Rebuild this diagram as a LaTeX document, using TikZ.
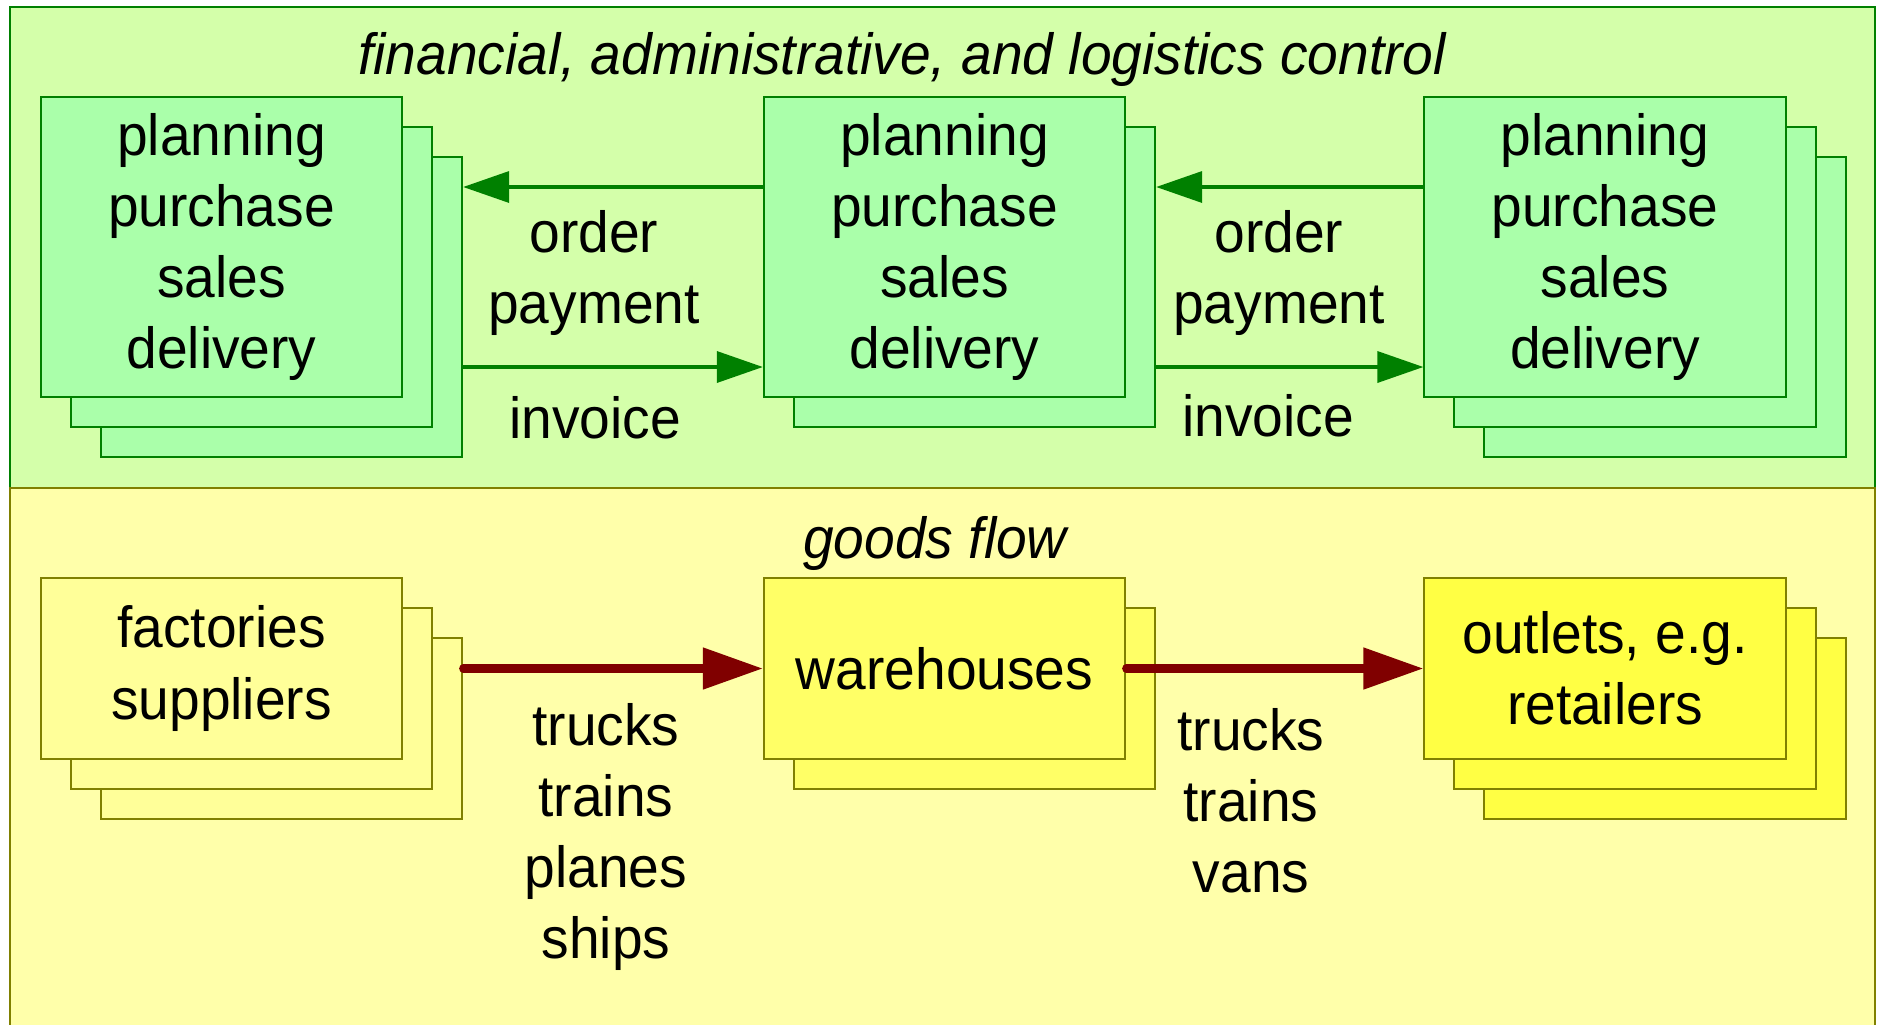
\documentclass[tikz,border=0pt]{standalone}
\usepackage{fontspec}
\setmainfont{Liberation Sans}[FakeStretch=0.95]
\usetikzlibrary{arrows.meta,calc}

\definecolor{ctrlbg}{HTML}{D4FFAA}
\definecolor{ctrlfill}{HTML}{AAFFAA}
\definecolor{ctrlline}{HTML}{008000}
\definecolor{goodsbg}{HTML}{FFFFAA}
\definecolor{goodsline}{HTML}{808000}
\definecolor{factoryfill}{HTML}{FFFF99}
\definecolor{storefill}{HTML}{FFFF66}
\definecolor{shopfill}{HTML}{FFFF44}
\definecolor{goodsred}{HTML}{800000}

\begin{document}
\begin{tikzpicture}[x=0.01cm, y=-0.01cm,
        every node/.style={font=\fontsize{16.5}{20.2}\selectfont, align=center},
        heading/.style={font=\fontsize{16.5}{20.2}\selectfont\itshape},
        ctrlbox/.style={draw=ctrlline, fill=ctrlfill, line width=0.6pt,
            minimum width=3.61cm, minimum height=3cm, inner sep=0pt},
        goodsbox/.style={draw=goodsline, line width=0.6pt,
            minimum width=3.61cm, minimum height=1.81cm, inner sep=0pt},
        ctrlarrow/.style={draw=ctrlline, line width=1pt,
            -{Triangle[length=4.6mm, width=3.1mm]}},
        goodsarrow/.style={draw=goodsred, line width=2.3pt, line cap=round,
            -{Triangle[length=6mm, width=4mm]}}]
        \useasboundingbox (0,0) rectangle (1877,1024);
        % the two levels
        \draw [ctrlline, fill=ctrlbg, line width=0.8pt] (10,7) rectangle (1875,488);
        \draw [goodsline, fill=goodsbg, line width=0.8pt] (10,488) rectangle (1875,1030);
        \node [heading] (ctrltitle) at (902,59) {financial, administrative, and logistics control};
        \node [heading] (goodstitle) at (935,543) {goods flow};

        % control stacks
        \node [ctrlbox] (planA2) at (281.5,307) {};
        \node [ctrlbox] (planA1) at (251.5,277) {};
        \node [ctrlbox] (planA) at (221.5,247) {planning\\purchase\\sales\\delivery};
        \node [ctrlbox] (planB1) at (974.5,277) {};
        \node [ctrlbox] (planB) at (944.5,247) {planning\\purchase\\sales\\delivery};
        \node [ctrlbox] (planC2) at (1665,307) {};
        \node [ctrlbox] (planC1) at (1635,277) {};
        \node [ctrlbox] (planC) at (1605,247) {planning\\purchase\\sales\\delivery};

        \draw [ctrlarrow] ($(planB.west)+(0,-60)$) -- ($(planA2.east)+(0,-120)$);
        \draw [ctrlarrow] ($(planA2.east)+(0,60)$) -- ($(planB.west)+(0,120)$);
        \draw [ctrlarrow] ($(planC.west)+(0,-60)$) -- ($(planB1.east)+(0,-90)$);
        \draw [ctrlarrow] ($(planB1.east)+(0,90)$) -- ($(planC.west)+(0,120)$);
        \node (orderAB) at (594,273) {order\\payment};
        \node (invAB) at (595,418) {invoice};
        \node (orderBC) at (1279,273) {order\\payment};
        \node (invBC) at (1268,416) {invoice};

        % goods stacks
        \node [goodsbox, fill=factoryfill] (suppD2) at (281.5,728.5) {};
        \node [goodsbox, fill=factoryfill] (suppD1) at (251.5,698.5) {};
        \node [goodsbox, fill=factoryfill] (suppD) at (221.5,668.5) {factories\\suppliers};
        \node [goodsbox, fill=storefill] (storeE1) at (974.5,698.5) {};
        \node [goodsbox, fill=storefill] (storeE) at (944.5,668.5) {warehouses};
        \node [goodsbox, fill=shopfill] (shopF2) at (1665,728.5) {};
        \node [goodsbox, fill=shopfill] (shopF1) at (1635,698.5) {};
        \node [goodsbox, fill=shopfill] (shopF) at (1605,668.5) {outlets, e.g.\\retailers};

        \draw [goodsarrow] ($(suppD2.east)+(0,-60)$) -- (storeE.west);
        \draw [goodsarrow] (storeE.east) -- (shopF.west);
        \node (transDE) at (606,837) {trucks\\trains\\planes\\ships};
        \node (transEF) at (1251,801) {trucks\\trains\\vans};
    \end{tikzpicture}
\end{document}
